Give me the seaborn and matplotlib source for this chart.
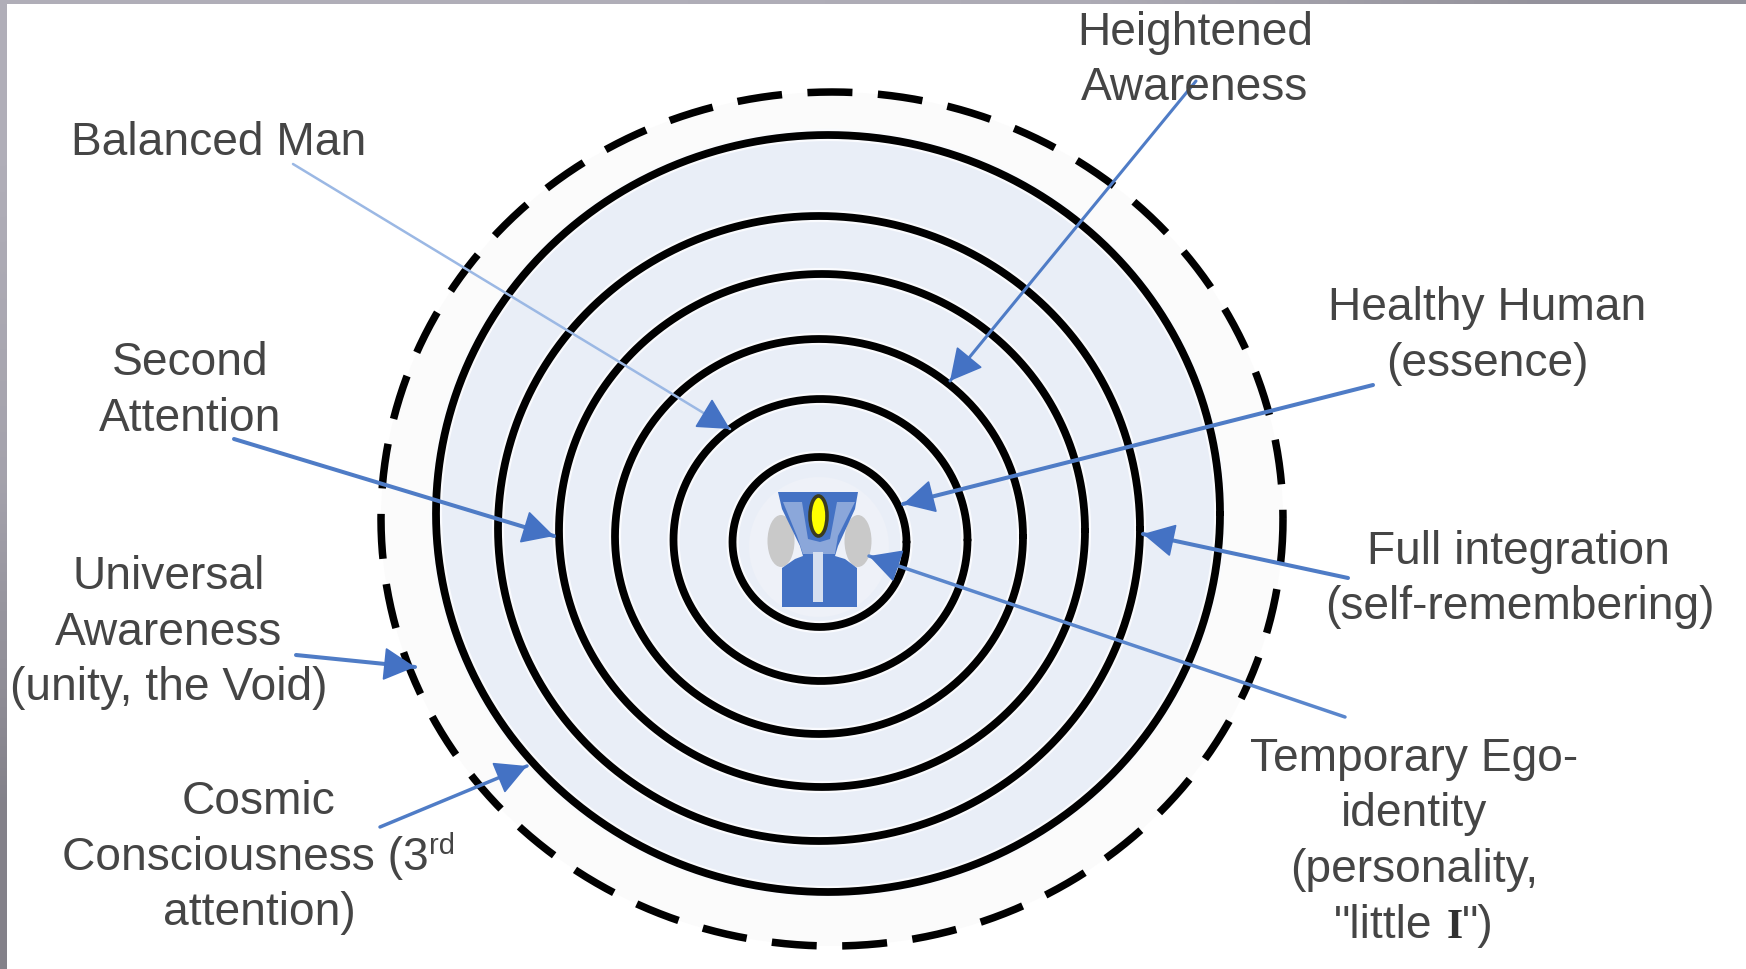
import numpy as np
import pandas as pd
import matplotlib
matplotlib.use("Agg")
import matplotlib.pyplot as plt
from matplotlib.colors import LinearSegmentedColormap
from matplotlib.patches import Ellipse, Polygon
import seaborn as sns

# rings: centre x, centre y, half-width, half-height (read in image pixels)
ring_cx = [828, 819, 822, 819, 820.5, 819.5]
ring_cy = [514.5, 529.5, 531.5, 537.5, 541, 543]
ring_rx = [392, 321, 263, 204, 147, 87]
ring_ry = [378.5, 312.5, 256.5, 197.5, 141, 85]
void_ring = (832, 520, 451, 427)

# labels: text, centre x, baseline y
label_text = ["Heightened", "Awareness", "Balanced Man", "Second", "Attention",
              "Universal", "Awareness", "(unity, the Void)", "Cosmic", "attention)",
              "Healthy Human", "(essence)", "Full integration", "(self-remembering)",
              "Temporary Ego-", "identity", "(personality,"]
label_x = [1195, 1195, 219, 190, 190, 169, 169, 169, 259, 259,
           1487, 1487, 1518, 1520, 1414, 1414, 1414]
label_y = [45, 100, 155, 375, 431, 589, 645, 700, 814, 925,
           320, 376, 564, 619, 771, 826, 882]

# arrows: start x, start y, tip x, tip y, colour, width
arrow_x0 = [1196, 293, 1373, 234, 1348, 1345, 296, 380]
arrow_y0 = [82, 165, 386, 440, 579, 718, 656, 828]
arrow_x1 = [950, 730, 903, 554, 1143, 869, 415, 527]
arrow_y1 = [382, 430, 505, 537, 535, 557, 668, 767]
arrow_col = ["#4f7cc6", "#9bb8e4", "#4f7cc6", "#4f7cc6", "#4f7cc6", "#5a86cc", "#4f7cc6", "#4f7cc6"]
arrow_lw = [2.2, 1.8, 2.9, 2.9, 2.9, 2.5, 2.9, 2.5]

sns.set_theme(style="white")
plt.rcParams["font.family"] = ["Liberation Sans", "DejaVu Sans"]

fig = plt.figure(figsize=(17.46, 9.70), dpi=100, facecolor="white")
ax = fig.add_axes([0, 0, 1, 1])
ax.set_xlim(0, 1746)
ax.set_ylim(970, 0)
ax.axis("off")

# window edges
edge_cmap = LinearSegmentedColormap.from_list("edge", ["#74727a", "#b0aeb8"])
ax.imshow(np.array([[1.0], [0.8], [0.25]]), cmap=edge_cmap, vmin=0, vmax=1,
          extent=(0, 7, 970, 0), aspect="auto", zorder=5, interpolation="bilinear")
ax.imshow(np.array([[1.0, 1.0, 0.95, 0.55]]), cmap=edge_cmap, vmin=0, vmax=1,
          extent=(0, 1746, 5, 0), aspect="auto", zorder=5, interpolation="bilinear")
ax.set_xlim(0, 1746)
ax.set_ylim(970, 0)

# fills
ax.add_patch(Ellipse(void_ring[:2], 2 * void_ring[2], 2 * void_ring[3],
                     fc="#fbfbfb", ec="none", zorder=1))
ax.add_patch(Ellipse((ring_cx[0], ring_cy[0]), 2 * ring_rx[0], 2 * ring_ry[0],
                     fc="#e9eef7", ec="none", zorder=1.5))


def ring_frame(cx, cy, rx, ry):
    t = np.linspace(0, 2 * np.pi, 721)
    return pd.DataFrame({"x": cx + rx * np.cos(t), "y": cy + ry * np.sin(t)})


d = ring_frame(*void_ring)
sns.lineplot(data=d, x="x", y="y", sort=False, estimator=None, color="black",
             linewidth=5.4, linestyle=(0, (6.0, 3.4)), dash_capstyle="butt", ax=ax, zorder=2)
for cx, cy, rx, ry in zip(ring_cx, ring_cy, ring_rx, ring_ry):
    d = ring_frame(cx, cy, rx, ry)
    sns.lineplot(data=d, x="x", y="y", sort=False, estimator=None, color="#fafbfe",
                 linewidth=8.8, ax=ax, zorder=2)
    sns.lineplot(data=d, x="x", y="y", sort=False, estimator=None, color="black",
                 linewidth=5.6, ax=ax, zorder=2.1)

# central figure
ax.add_patch(Ellipse((819, 548), 140, 140, fc="#eef1f8", ec="none", zorder=2.2))
ax.add_patch(Ellipse((781, 542), 27, 52, fc="#c9c9c9", ec="none", zorder=2.3))
ax.add_patch(Ellipse((858, 542), 27, 52, fc="#c9c9c9", ec="none", zorder=2.3))
body_x = [778, 858, 855, 838, 835, 845, 857, 857, 782, 782, 795, 803, 800, 782]
body_y = [493, 493, 510, 547, 557, 560, 569, 608, 608, 569, 560, 557, 547, 510]
ax.add_patch(Polygon(np.c_[body_x, body_y], fc="#4472c4", ec="none", zorder=2.4))
inner_x = [783, 802, 808, 820, 830, 837, 855, 838, 835, 803, 797]
inner_y = [503, 503, 540, 543, 540, 503, 503, 537, 555, 555, 537]
ax.add_patch(Polygon(np.c_[inner_x, inner_y], fc="#8ba7da", ec="none", zorder=2.5))
ax.add_patch(Polygon(np.c_[[813, 823, 823, 813], [553, 553, 603, 603]],
                     fc="#d5dff0", ec="none", zorder=2.5))
ax.add_patch(Ellipse((818.5, 517), 17, 40, fc="#ffff00", ec="#3b3b20", lw=2.6, zorder=2.6))

# arrows: shaft in its own colour, head always the strong blue
head_style = "-|>,head_length=0.85,head_width=0.45"
for x0, y0, x1, y1, c, lw in zip(arrow_x0, arrow_y0, arrow_x1, arrow_y1, arrow_col, arrow_lw):
    ax.annotate("", xy=(x1, y1), xytext=(x0, y0), zorder=3,
                arrowprops=dict(arrowstyle="-", color=c, lw=lw, shrinkA=0, shrinkB=0))
    hx, hy = x1 + (x0 - x1) * 26 / np.hypot(x0 - x1, y0 - y1), y1 + (y0 - y1) * 26 / np.hypot(x0 - x1, y0 - y1)
    ax.annotate("", xy=(x1, y1), xytext=(hx, hy), zorder=3.1,
                arrowprops=dict(arrowstyle=head_style, mutation_scale=24, color="#4472c4",
                                lw=1.2, shrinkA=0, shrinkB=0))

# labels
text_kw = dict(color="#454545", fontsize=33.2, va="baseline", zorder=4)
for s, x, y in zip(label_text, label_x, label_y):
    ax.text(x, y, s, ha="center", **text_kw)
ax.text(62, 870, "Consciousness (3", ha="left", **text_kw)
ax.text(429, 854, "rd", ha="left", color="#454545", fontsize=21, va="baseline", zorder=4)
ax.text(1334, 938, '"little', ha="left", **text_kw)
ax.text(1447, 938, "I", ha="left", color="#303030", fontsize=30, va="baseline",
        family="Liberation Serif", weight="bold", zorder=4)
ax.text(1462, 938, '")', ha="left", **text_kw)

fig.savefig("out.png", dpi=100)
